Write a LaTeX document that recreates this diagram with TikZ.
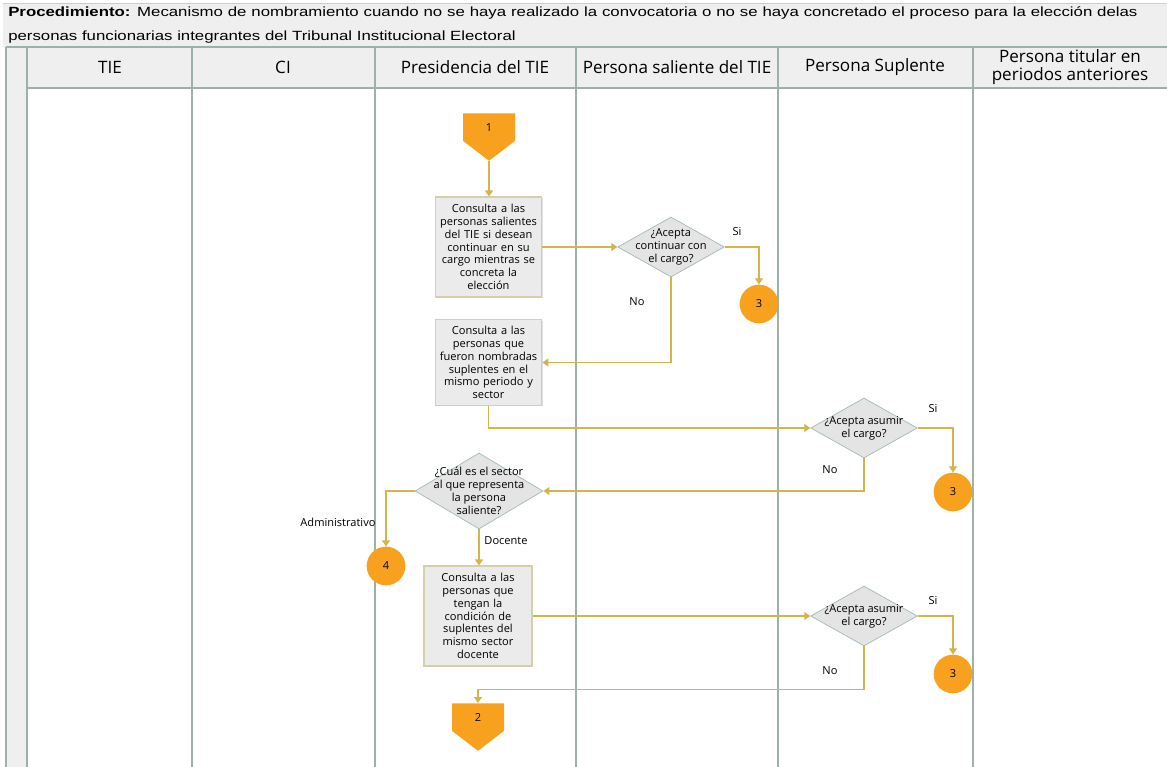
\documentclass[tikz,border=0pt]{standalone}
\usepackage{fontspec}
\setmainfont{Open Sans}
\newfontfamily\titlefont[FakeStretch=1.26]{Liberation Sans}
\usetikzlibrary{positioning,shapes.geometric,shapes.symbols,arrows.meta,shadows}

\definecolor{naranja}{HTML}{F7A11F}
\definecolor{dorado}{HTML}{D4B44B}
\definecolor{carril}{HTML}{9DB0AA}
\definecolor{cajafondo}{HTML}{EBEBEB}
\definecolor{cajaborde}{HTML}{D6CFAE}
\definecolor{rombofondo}{HTML}{E4E4E4}
\definecolor{romboborde}{HTML}{A9BFBA}
\definecolor{banda}{HTML}{EFEFEF}

\tikzset{
  actividad/.style={rectangle, draw=cajaborde, fill=cajafondo, line width=0.8pt,
    minimum width=80pt, text width=78pt, align=center, inner sep=1pt,
    font=\fontsize{8.3}{9.6}\selectfont,
    drop shadow={opacity=0.25, shadow xshift=0.8pt, shadow yshift=-0.8pt}},
  decision/.style={diamond, draw=romboborde, fill=rombofondo, line width=0.6pt,
    minimum width=80pt, minimum height=45pt, inner sep=0pt},
  rombotexto/.style={align=center, inner sep=0pt, font=\fontsize{8.3}{9.6}\selectfont},
  conector/.style={circle, fill=naranja, minimum size=29pt, inner sep=0pt,
    font=\fontsize{8.3}{9}\selectfont},
  offpage/.style={signal, signal to=south, signal pointer angle=105, fill=naranja,
    minimum width=39pt, minimum height=22.5pt, inner sep=0pt,
    font=\fontsize{8.3}{9}\selectfont},
  flecha/.style={draw=dorado, line width=0.8pt, -{Triangle[width=6pt,length=4.5pt]}},
  etiqueta/.style={inner sep=0pt, font=\fontsize{8.3}{9}\selectfont},
  encabezado/.style={align=center, inner sep=0pt, font=\fontsize{12.8}{14}\selectfont}
}

\begin{document}
\begin{tikzpicture}[x=0.75pt, y=-0.75pt]
\useasboundingbox (0,0) rectangle (1167,767);

% bandas y carriles
\fill[banda] (3,3) rectangle (1167,47);
\fill[banda] (6,47) rectangle (1167,88);
\fill[banda] (6,88) rectangle (27,767);
\draw[carril!60, line width=0.6pt] (3,3) -- (1167,3);
\draw[carril, line width=0.8pt] (6,47) -- (1167,47) (27,88) -- (1167,88);
\foreach \lx in {6,27,192,375,576,778,973}
  \draw[carril, line width=0.8pt] (\lx,47) -- (\lx,767);

% titulo
\node[anchor=west, inner sep=0pt, font=\titlefont\fontsize{10}{12}\selectfont] (tit1) at (8,13)
  {\makebox[847pt][s]{\textbf{Procedimiento:} Mecanismo de nombramiento cuando no se haya realizado la convocatoria o no se haya concretado el proceso para la elección delas}};
\node[anchor=west, inner sep=0pt, font=\titlefont\fontsize{10}{12}\selectfont] (tit2) at (8,37)
  {personas funcionarias integrantes del Tribunal Institucional Electoral};

% encabezados
\foreach \cx/\nombre in {110/TIE, 283/CI, 475/Presidencia del TIE, 677/Persona saliente del TIE, 875/Persona Suplente}
  \node[encabezado] (h\cx) at (\cx,67) {\nombre};
\node[encabezado] (htitular) at (1070,67) {Persona titular en\\periodos anteriores};

% nodos
\node[offpage, anchor=north] (ini) at (489,113) {1};
\node[actividad, minimum height=75pt] (a1) at (488.5,247)
  {Consulta a las\\personas salientes\\del TIE si desean\\continuar en su\\cargo mientras se\\concreta la\\elección};
\node[decision, label={[rombotexto]center:¿Acepta\\continuar con\\el cargo?}] (d1) at (671,247) {};
\node[conector] (k1) at (759,304) {3};
\node[actividad, minimum height=64pt] (a2) at (488.5,362.5)
  {Consulta a las\\personas que\\fueron nombradas\\suplentes en el\\mismo periodo y\\sector};
\node[decision, label={[rombotexto]center:¿Acepta asumir\\el cargo?}] (d2) at (864,428) {};
\node[conector] (k2) at (953,492) {3};
\node[decision, minimum width=96pt, minimum height=57pt,
  label={[rombotexto]center:¿Cuál es el sector\\al que representa\\la persona\\saliente?}] (d3) at (479,491) {};
\node[conector] (k3) at (386,566) {4};
\node[actividad, minimum width=81pt, minimum height=75pt] (a3) at (478,616)
  {Consulta a las\\personas que\\tengan la\\condición de\\suplentes del\\mismo sector\\docente};
\node[decision, label={[rombotexto]center:¿Acepta asumir\\el cargo?}] (d4) at (864,616) {};
\node[conector] (k4) at (953,674) {3};
\node[offpage, anchor=north] (fin) at (478,703) {2};

% flechas
\draw[flecha] (ini.south) -- (ini.south |- a1.north);
\draw[flecha] (a1.east) -- (d1.west);
\draw[flecha] (d1.east) -| (k1.north);
\draw[flecha] (d1.south) |- (a2.east);
\draw[flecha] (a2.south) |- (d2.west);
\draw[flecha] (d2.east) -| (k2.north);
\draw[flecha] (d2.south) |- (d3.east);
\draw[flecha] (d3.west) -| (k3.north);
\draw[flecha] (d3.south) -- (d3.south |- a3.north);
\draw[flecha] (a3.east) -- (d4.west);
\draw[flecha] (d4.east) -| (k4.north);
\draw[flecha] (d4.south) -- ++(0,43) -| (fin.north);

% etiquetas
\node[etiqueta] (si1) at (737,231) {Si};
\node[etiqueta] (no1) at (637,302) {No};
\node[etiqueta] (si2) at (933,408) {Si};
\node[etiqueta] (no2) at (830,470) {No};
\node[etiqueta] (adm) at (338,522) {Administrativo};
\node[etiqueta] (doc) at (506,541) {Docente};
\node[etiqueta] (si3) at (933,600) {Si};
\node[etiqueta] (no3) at (830,671) {No};
\end{tikzpicture}
\end{document}
